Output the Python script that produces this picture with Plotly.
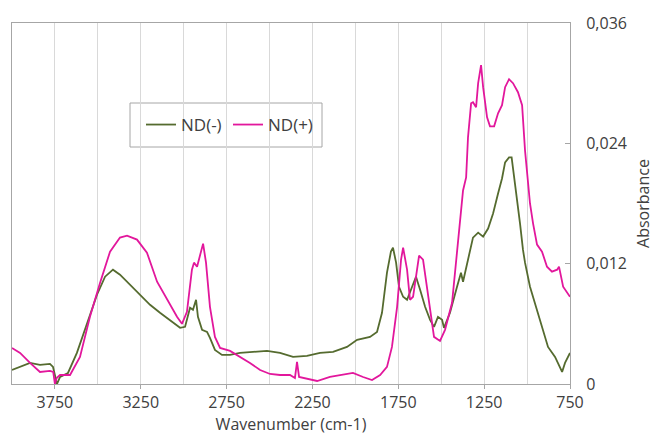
import plotly.graph_objects as go

# ND(-) spectrum (wavenumber cm-1, absorbance)
wn_minus = [4000, 3953, 3895, 3837, 3779, 3761, 3745, 3738, 3720, 3674, 3622, 3563, 3505, 3458, 3412,
            3371, 3313, 3254, 3196, 3138, 3080, 3021, 2992, 2963, 2946, 2928, 2917, 2893, 2864,
            2847, 2818, 2777, 2730, 2672, 2596, 2515, 2439, 2363, 2282, 2206, 2130, 2049, 1990,
            1915, 1874, 1845, 1816, 1793, 1781, 1763, 1746, 1722, 1699, 1670, 1647, 1623, 1594,
            1565, 1542, 1519, 1495, 1484, 1449, 1408, 1385, 1373, 1344, 1315, 1285, 1256, 1227,
            1198, 1169, 1146, 1128, 1105, 1090, 1070, 1053, 1041, 1024, 1012, 983, 942, 907, 878,
            837, 796, 779, 750]
abs_minus = [0.0014, 0.0017, 0.0021, 0.0019, 0.0020, 0.0017, 0.0005, 0.0000, 0.0007, 0.0011, 0.0031,
             0.0061, 0.0089, 0.0107, 0.0114, 0.0109, 0.0099, 0.0089, 0.0079, 0.0071, 0.0064, 0.0056,
             0.0057, 0.0076, 0.0074, 0.0084, 0.0067, 0.0054, 0.0052, 0.0046, 0.0034, 0.0029, 0.0029,
             0.0031, 0.0032, 0.0033, 0.0031, 0.0027, 0.0028, 0.0031, 0.0032, 0.0037, 0.0044, 0.0047,
             0.0052, 0.0071, 0.0111, 0.0132, 0.0136, 0.0121, 0.0097, 0.0087, 0.0084, 0.0096, 0.0107,
             0.0094, 0.0077, 0.0064, 0.0057, 0.0067, 0.0064, 0.0056, 0.0071, 0.0097, 0.0111, 0.0102,
             0.0124, 0.0146, 0.0151, 0.0147, 0.0155, 0.0170, 0.0190, 0.0205, 0.0221, 0.0226, 0.0226,
             0.0200, 0.0174, 0.0160, 0.0134, 0.0121, 0.0097, 0.0074, 0.0054, 0.0037, 0.0027, 0.0012,
             0.0021, 0.0031]

# ND(+) spectrum
wn_plus = [4000, 3953, 3895, 3837, 3779, 3760, 3750, 3740, 3720, 3662, 3604, 3546, 3487, 3429, 3371,
           3330, 3272, 3214, 3155, 3097, 3039, 3010, 2981, 2952, 2940, 2922, 2899, 2887, 2870, 2847,
           2818, 2788, 2730, 2672, 2614, 2555, 2497, 2439, 2381, 2352, 2340, 2328, 2282, 2223, 2148,
           2072, 2014, 1955, 1903, 1856, 1816, 1787, 1757, 1734, 1722, 1699, 1682, 1664, 1641, 1629,
           1606, 1583, 1565, 1542, 1507, 1478, 1437, 1408, 1373, 1355, 1344, 1326, 1315, 1297, 1285,
           1268, 1256, 1233, 1216, 1192, 1169, 1146, 1128, 1105, 1082, 1053, 1029, 1012, 983, 965,
           942, 913, 884, 855, 825, 814, 790, 750]
abs_plus = [0.0036, 0.0031, 0.0021, 0.0012, 0.0013, 0.0012, 0.0000, 0.0006, 0.0009, 0.0009, 0.0027,
            0.0067, 0.0101, 0.0132, 0.0146, 0.0148, 0.0144, 0.0131, 0.0102, 0.0084, 0.0067, 0.0060,
            0.0072, 0.0114, 0.0121, 0.0117, 0.0134, 0.0140, 0.0121, 0.0077, 0.0047, 0.0036, 0.0033,
            0.0027, 0.0021, 0.0014, 0.0010, 0.0009, 0.0009, 0.0006, 0.0022, 0.0007, 0.0005, 0.0003,
            0.0007, 0.0009, 0.0011, 0.0007, 0.0004, 0.0009, 0.0017, 0.0037, 0.0077, 0.0124, 0.0136,
            0.0114, 0.0084, 0.0087, 0.0117, 0.0128, 0.0124, 0.0097, 0.0071, 0.0047, 0.0043, 0.0054,
            0.0081, 0.0135, 0.0193, 0.0206, 0.0246, 0.0280, 0.0281, 0.0276, 0.0300, 0.0318, 0.0296,
            0.0266, 0.0257, 0.0257, 0.0270, 0.0278, 0.0296, 0.0304, 0.0300, 0.0291, 0.0278, 0.0233,
            0.0180, 0.0160, 0.0139, 0.0132, 0.0117, 0.0112, 0.0114, 0.0117, 0.0097, 0.0087]

x_ticks = [3750, 3250, 2750, 2250, 1750, 1250, 750]
x_ticklabels = ["3750", "3250", "2750", "2250", "1750", "1250", "750"]
x_grid = list(range(750, 4001, 250))
y_ticks = [0, 0.012, 0.024, 0.036]
y_ticklabels = ["0", "0,012", "0,024", "0,036"]

GREEN = "#556b2f"
MAGENTA = "#e2179c"
FONT = "Open Sans"
TXT = "#404040"

fig = go.Figure()
fig.add_trace(go.Scatter(x=wn_minus, y=abs_minus, mode="lines", name="ND(-)",
                         line=dict(color=GREEN, width=1.8)))
fig.add_trace(go.Scatter(x=wn_plus, y=abs_plus, mode="lines", name="ND(+)",
                         line=dict(color=MAGENTA, width=1.8)))

# legend frame (drawn as a box in plot-fraction coordinates)
fig.add_shape(type="rect", xref="paper", yref="paper",
              x0=(130 - 12) / 558, x1=(322 - 12) / 558,
              y0=(384 - 147) / 361, y1=(384 - 103) / 361,
              line=dict(color="#a6a6a6", width=1), fillcolor="white", layer="below")

fig.update_layout(
    width=654, height=440,
    margin=dict(l=12, r=84, t=23, b=56, autoexpand=False),
    paper_bgcolor="white", plot_bgcolor="rgba(0,0,0,0)",
    font=dict(family=FONT, size=16, color=TXT),
    showlegend=True,
    legend=dict(orientation="h", x=(228 - 12) / 558, y=(384 - 125) / 361,
                xanchor="center", yanchor="middle",
                borderwidth=0, bgcolor="rgba(0,0,0,0)",
                font=dict(family=FONT, size=17, color=TXT), entrywidth=42,
                itemwidth=30),
)
fig.update_xaxes(
    range=[4000, 750], autorange=False,
    tickmode="array", tickvals=x_ticks, ticktext=x_ticklabels,
    showgrid=True, gridcolor="#d9d9d9", gridwidth=1,
    minor=dict(tickmode="array", tickvals=x_grid, showgrid=True, gridcolor="#d9d9d9", ticks=""),
    showline=True, linecolor="#a6a6a6", linewidth=1, mirror=True,
    ticks="outside", ticklen=4, tickcolor="#a6a6a6",
    zeroline=False, automargin=False,
    title=dict(text="Wavenumber (cm-1)", standoff=2, font=dict(size=16, color=TXT)),
    tickfont=dict(size=16, color=TXT),
)
fig.update_yaxes(
    range=[0, 0.036], autorange=False, side="right",
    tickmode="array", tickvals=y_ticks, ticktext=y_ticklabels,
    showgrid=False, zeroline=False, automargin=False,
    showline=True, linecolor="#a6a6a6", linewidth=1, mirror=True,
    ticks="inside", ticklen=5, tickcolor="#a6a6a6",
    ticklabelstandoff=12,
    title=dict(text="Absorbance", standoff=15, font=dict(size=16, color=TXT)),
    tickfont=dict(size=16, color=TXT),
)

fig.write_html("out.html", config={"displayModeBar": False},
               post_script="document.body.style.margin='0px';")
